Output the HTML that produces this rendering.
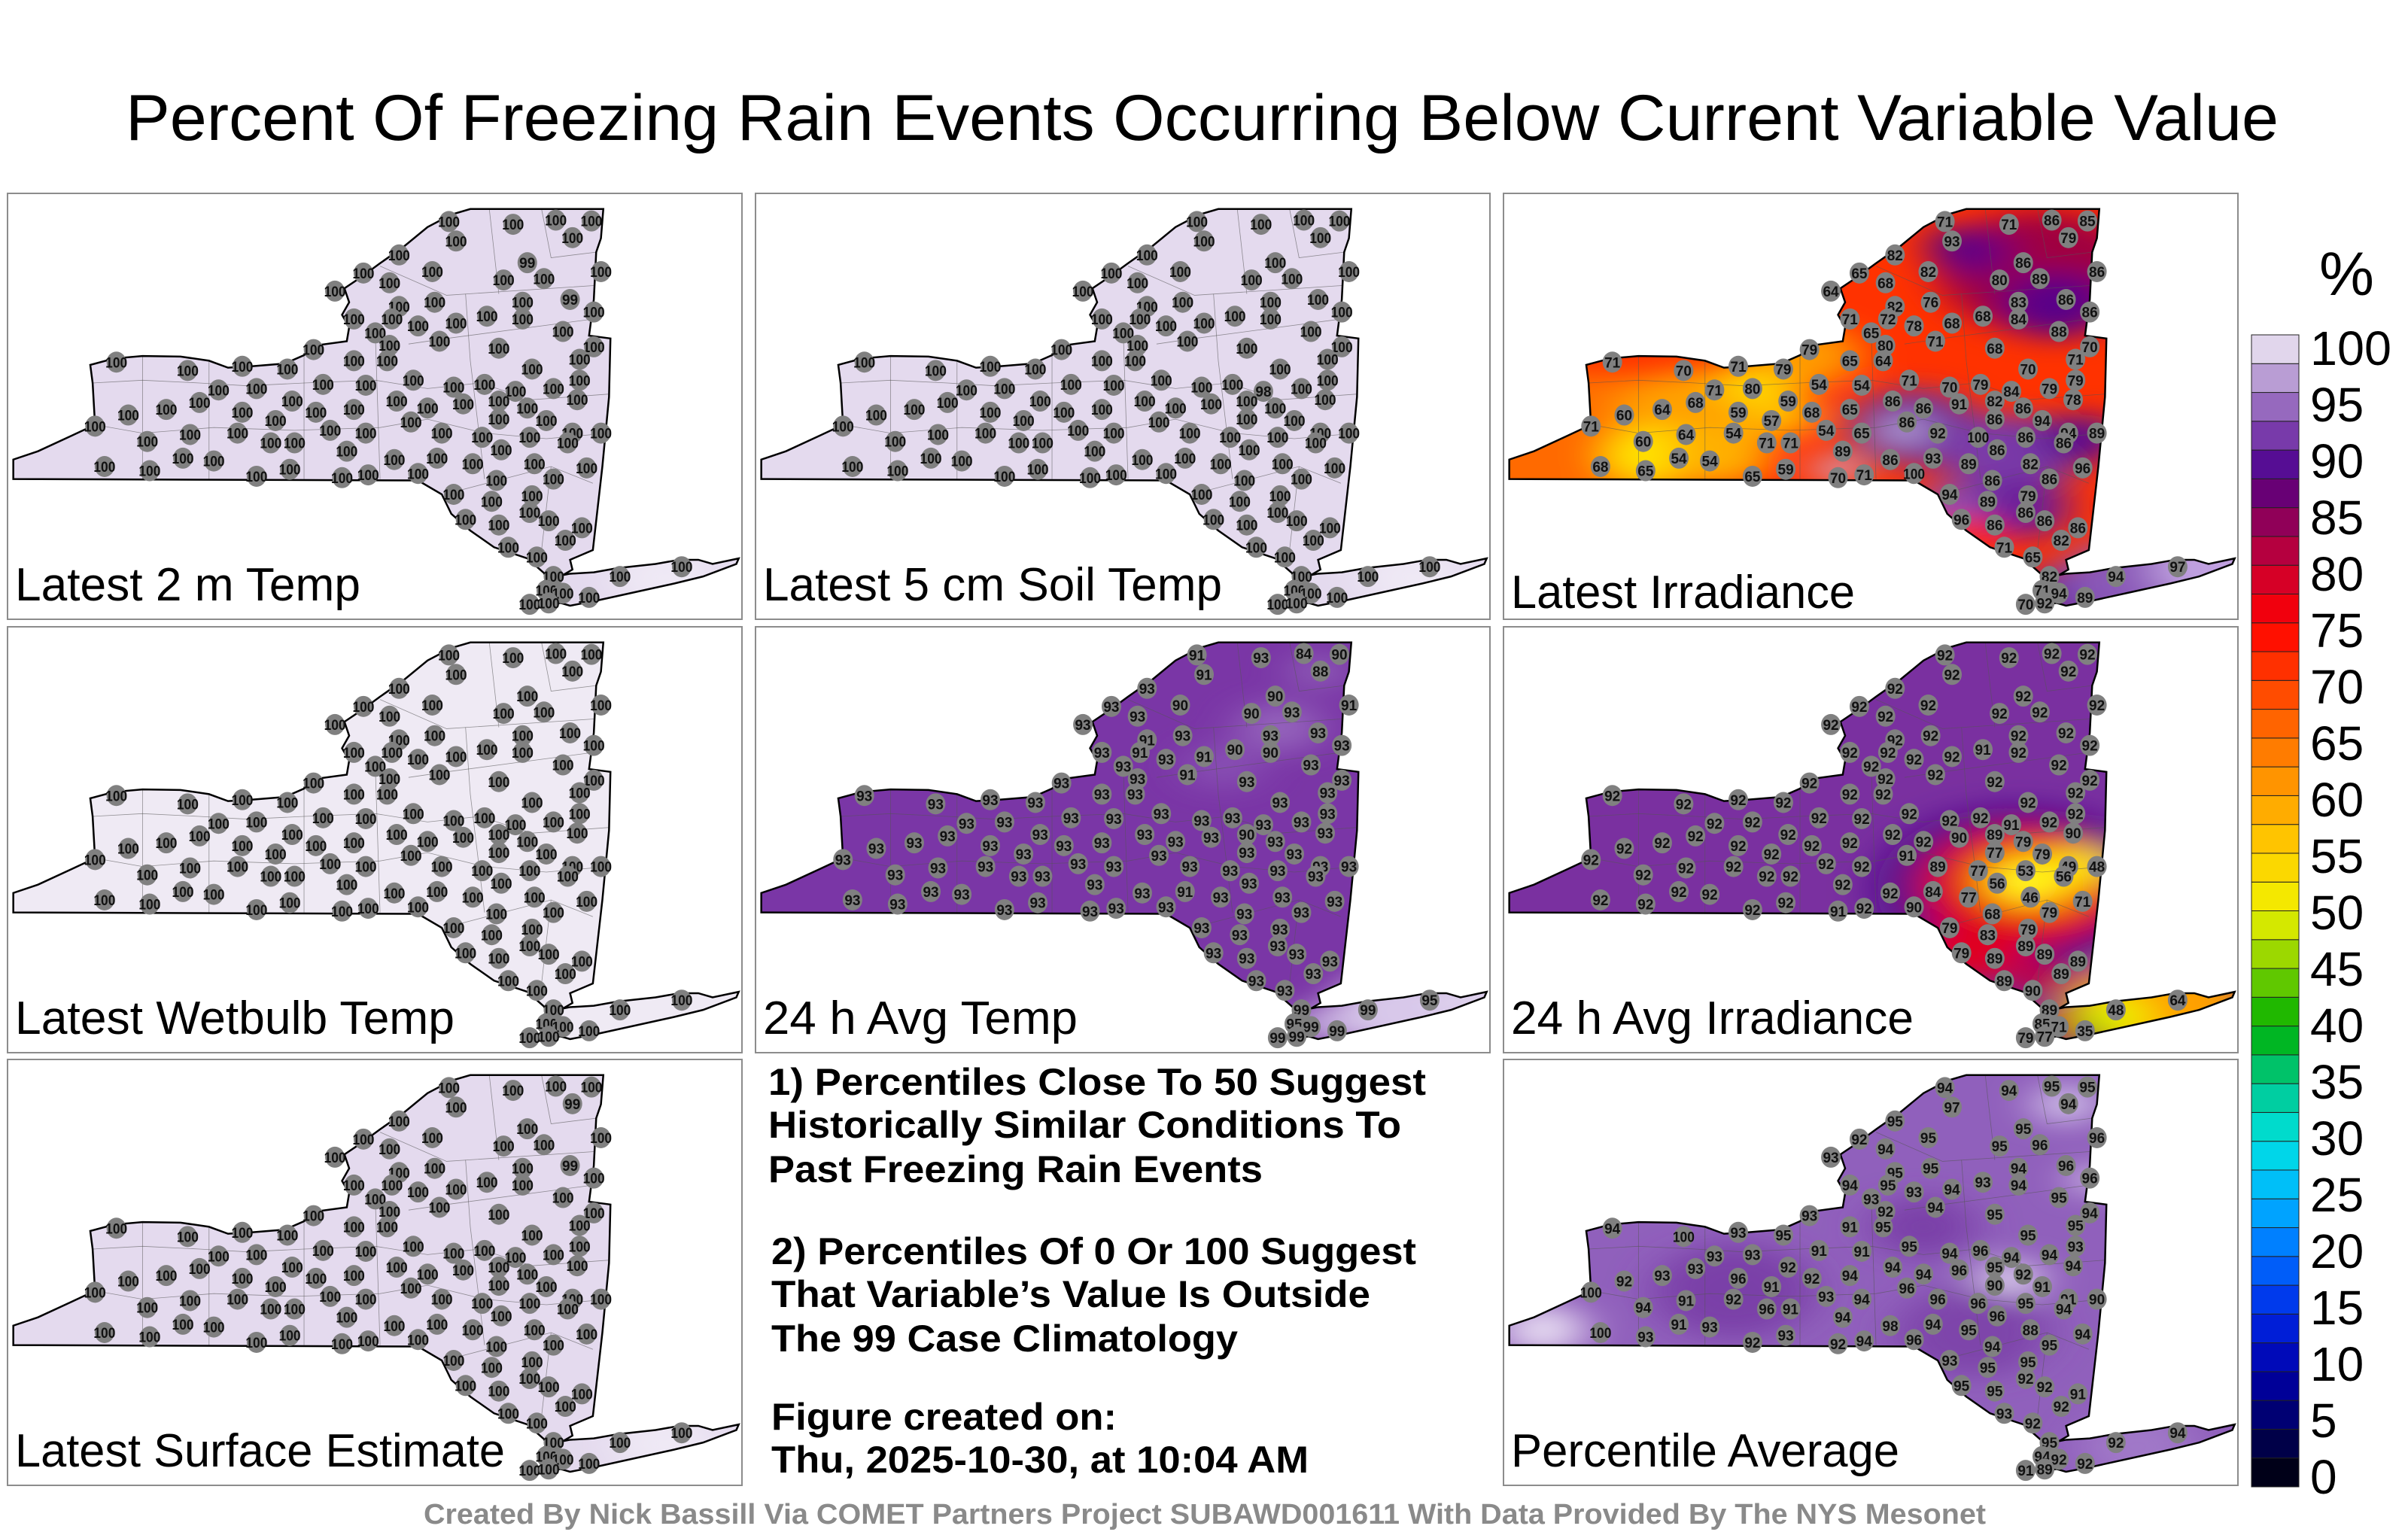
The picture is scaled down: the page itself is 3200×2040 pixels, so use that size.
<!DOCTYPE html>
<html><head><meta charset="utf-8"><title>Percent Of Freezing Rain Events</title>
<style>html,body{margin:0;padding:0;background:#fff;}svg{display:block;}text{font-family:"Liberation Sans",Arial,sans-serif;}</style>
</head><body>
<svg id="fig" width="3200" height="2040" viewBox="0 0 3200 2040" xmlns="http://www.w3.org/2000/svg">
<defs>
<filter id="blur" x="-50%" y="-50%" width="200%" height="200%"><feGaussianBlur stdDeviation="45"/></filter>
</defs>
<rect width="3200" height="2040" fill="#fff"/>
<text x="167" y="186" font-size="86" textLength="2861" lengthAdjust="spacingAndGlyphs">Percent Of Freezing Rain Events Occurring Below Current Variable Value</text>
<g id="panels"></g>
<g id="notes" font-weight="bold" font-size="50">
<text x="1021" y="1455" textLength="874" lengthAdjust="spacingAndGlyphs">1) Percentiles Close To 50 Suggest</text>
<text x="1021" y="1512" textLength="841" lengthAdjust="spacingAndGlyphs">Historically Similar Conditions To</text>
<text x="1021" y="1571" textLength="657" lengthAdjust="spacingAndGlyphs">Past Freezing Rain Events</text>
<text x="1025" y="1680" textLength="857" lengthAdjust="spacingAndGlyphs">2) Percentiles Of 0 Or 100 Suggest</text>
<text x="1025" y="1737" textLength="796" lengthAdjust="spacingAndGlyphs">That Variable’s Value Is Outside</text>
<text x="1025" y="1796" textLength="620" lengthAdjust="spacingAndGlyphs">The 99 Case Climatology</text>
<text x="1025" y="1900" textLength="459" lengthAdjust="spacingAndGlyphs">Figure created on:</text>
<text x="1025" y="1957" textLength="714" lengthAdjust="spacingAndGlyphs">Thu, 2025-10-30, at 10:04 AM</text>
</g>
<g id="cbar"></g>
<text x="3082" y="392" font-size="82">%</text>
<text x="563" y="2025" font-size="38" font-weight="bold" fill="#8a8a8a" textLength="2076" lengthAdjust="spacingAndGlyphs">Created By Nick Bassill Via COMET Partners Project SUBAWD001611 With Data Provided By The NYS Mesonet</text>
</svg>
<script>
// station positions (map reference coordinates)
const stX=[945,1080,1170,1245,960,1205,840,1110,765,910,1060,1145,1265,820,705,1200,915,1100,840,1250,745,825,880,960,1025,1100,790,1185,925,820,1050,1250,660,745,815,1220,245,395,510,605,1120,1220,460,540,680,770,870,955,1020,1085,1165,420,615,835,900,975,1050,1110,1215,270,350,510,580,665,745,865,1050,1150,200,400,500,310,570,620,695,770,930,1015,1115,1205,1265,1195,730,1055,385,450,220,315,540,610,720,775,830,920,995,1125,1235,880,1165,1045,955,1035,1120,1115,980,1050,1155,1225,1190,1070,1130,1165,1150,1185,1115,1155,1240,1305,1435];
const stY=[120,130,115,118,190,178,240,268,305,300,330,325,300,340,370,400,410,410,425,445,470,470,495,485,460,470,520,515,550,565,575,570,580,620,620,615,625,655,640,650,650,690,725,720,705,708,690,715,705,730,720,770,765,765,790,775,765,790,760,815,795,805,835,805,795,840,830,835,855,885,880,910,915,915,870,880,880,895,895,880,880,915,945,940,970,980,1000,1015,1035,1010,1040,1030,975,970,990,990,1005,1025,1045,1050,1100,1125,1105,1165,1190,1210,1195,1220,1265,1290,1325,1395,1445,1455,1495,1490,1470,1395,1360];
// values per panel
const valsTemp2m=[100,100,100,100,100,100,100,99,100,100,100,100,100,100,100,99,100,100,100,100,100,100,100,100,100,100,100,100,100,100,100,100,100,100,100,100,100,100,100,100,100,100,100,100,100,100,100,100,100,100,100,100,100,100,100,100,100,100,100,100,100,100,100,100,100,100,100,100,100,100,100,100,100,100,100,100,100,100,100,100,100,100,100,100,100,100,100,100,100,100,100,100,100,100,100,100,100,100,100,100,100,100,100,100,100,100,100,100,100,100,100,100,100,100,100,100,100,100,100];
const valsSoil=[100,100,100,100,100,100,100,100,100,100,100,100,100,100,100,100,100,100,100,100,100,100,100,100,100,100,100,100,100,100,100,100,100,100,100,100,100,100,100,100,100,100,100,100,100,100,100,100,100,98,100,100,100,100,100,100,100,100,100,100,100,100,100,100,100,100,100,100,100,100,100,100,100,100,100,100,100,100,100,100,100,100,100,100,100,100,100,100,100,100,100,100,100,100,100,100,100,100,100,100,100,100,100,100,100,100,100,100,100,100,100,100,100,100,100,100,100,100,100];
const valsIrr=[71,71,86,85,93,79,82,86,65,82,80,89,86,68,64,86,76,83,82,86,71,72,78,68,68,84,65,88,71,80,68,70,79,65,64,71,71,70,71,79,70,79,71,80,54,54,71,70,79,84,79,68,59,86,86,91,82,86,78,60,64,59,57,68,65,86,86,94,71,64,54,60,71,71,54,65,92,100,86,94,89,86,89,86,54,54,68,65,65,59,70,71,86,93,89,82,96,100,86,86,94,89,79,86,96,86,86,86,82,71,65,82,71,94,70,92,89,94,97];
const valsWetbulb=[100,100,100,100,100,100,100,100,100,100,100,100,100,100,100,100,100,100,100,100,100,100,100,100,100,100,100,100,100,100,100,100,100,100,100,100,100,100,100,100,100,100,100,100,100,100,100,100,100,100,100,100,100,100,100,100,100,100,100,100,100,100,100,100,100,100,100,100,100,100,100,100,100,100,100,100,100,100,100,100,100,100,100,100,100,100,100,100,100,100,100,100,100,100,100,100,100,100,100,100,100,100,100,100,100,100,100,100,100,100,100,100,100,100,100,100,100,100,100];
const valsAvgTemp=[91,93,84,90,91,88,93,90,93,90,90,93,91,93,93,93,93,93,91,93,93,91,93,91,90,90,93,93,91,93,93,93,93,93,93,93,93,93,93,93,93,93,93,93,93,93,93,93,93,93,93,93,93,93,93,93,90,93,93,93,93,93,93,93,93,93,93,93,93,93,93,93,93,93,93,93,93,93,93,93,93,93,93,93,93,93,93,93,93,93,93,93,93,91,93,93,93,93,93,93,93,93,93,93,93,93,93,93,93,93,93,99,95,99,99,99,99,99,95];
const valsAvgIrr=[92,92,92,92,92,92,92,92,92,92,92,92,92,92,92,92,92,92,92,92,92,92,92,92,91,92,92,92,92,92,92,92,92,92,92,92,92,92,92,92,92,92,92,92,92,92,92,92,92,91,92,92,92,92,92,90,89,79,90,92,92,92,92,92,92,91,77,79,92,92,92,92,92,92,92,92,89,77,53,49,48,56,92,56,92,92,92,92,92,92,91,92,92,84,77,46,71,90,79,68,79,83,79,89,79,89,89,89,89,89,90,89,85,71,79,77,35,48,64];
const valsSurface=[100,100,100,100,100,99,100,100,100,100,100,100,100,100,100,99,100,100,100,100,100,100,100,100,100,100,100,100,100,100,100,100,100,100,100,100,100,100,100,100,100,100,100,100,100,100,100,100,100,100,100,100,100,100,100,100,100,100,100,100,100,100,100,100,100,100,100,100,100,100,100,100,100,100,100,100,100,100,100,100,100,100,100,100,100,100,100,100,100,100,100,100,100,100,100,100,100,100,100,100,100,100,100,100,100,100,100,100,100,100,100,100,100,100,100,100,100,100,100];
const valsAverage=[94,94,95,95,97,94,95,95,92,95,95,96,96,94,93,96,95,94,95,96,94,95,93,94,93,94,93,95,94,92,95,94,93,91,95,95,94,100,93,95,95,93,93,93,91,91,95,94,96,94,94,93,92,94,94,96,95,92,94,92,93,96,91,92,94,96,90,91,100,91,92,94,96,91,93,94,96,96,95,91,90,94,94,96,91,93,100,93,92,93,92,94,98,94,95,88,94,96,95,94,93,95,95,92,95,95,92,91,92,93,92,95,94,92,91,89,92,92,94];
// colorbar levels
const cbTicks=[100,95,90,85,80,75,70,65,60,55,50,45,40,35,30,25,20,15,10,5,0];

const SVGNS='http://www.w3.org/2000/svg';
function mk(tag,attrs,parent){const e=document.createElementNS(SVGNS,tag);for(const k in attrs)e.setAttribute(k,attrs[k]);if(parent)parent.appendChild(e);return e;}

const stops=[[0,[0,0,0]],[5,[0,0,96]],[10,[0,0,170]],[15,[0,40,230]],[20,[0,110,255]],[25,[0,180,255]],[30,[0,225,225]],[35,[0,200,140]],[40,[0,176,0]],[45,[128,208,0]],[50,[240,240,0]],[55,[255,208,0]],[60,[255,160,0]],[65,[255,112,0]],[70,[255,64,0]],[75,[255,0,0]],[80,[200,0,50]],[85,[125,0,100]],[88,[75,0,140]],[90,[105,35,160]],[95,[165,128,200]],[100,[245,242,248]]];
function cmap(v){for(let i=1;i<stops.length;i++){if(v<=stops[i][0]){const a=stops[i-1],b=stops[i];const t=(v-a[0])/(b[0]-a[0]);const c=a[1].map((x,j)=>Math.round(x+(b[1][j]-x)*t));return 'rgb('+c.join(',')+')';}}return 'rgb(245,242,248)';}

// colorbar
const cb=document.getElementById('cbar');
const cbTop=445,cbBot=1976,cbX=2992,cbW=63;
function cbY(v){return cbBot-(v/100)*(cbBot-cbTop);}
for(let v=0;v<100;v+=2.5){
  const band=mk('rect',{x:cbX,y:cbY(v+2.5),width:cbW,height:cbY(v)-cbY(v+2.5),fill:cmap(v+1.25),stroke:'#222','stroke-width':1},cb);
  
  
}
function lblY(v){return 1961-(v/100)*1500+24;}
cbTicks.forEach(v=>{
  const t=mk('text',{x:3070,y:lblY(v),'font-size':64},cb);
  if(String(v).length===3){t.setAttribute('textLength',108);t.setAttribute('lengthAdjust','spacingAndGlyphs');}
  t.textContent=String(v);
  
  
});

const statePath='M28,1045 L28,975 L80,945 L150,890 L200,850 L195,700 L190,635 L240,612 L300,603 L380,605 L440,620 L480,645 L530,640 L600,630 L640,600 L665,565 L730,550 L735,500 L720,455 L735,410 L725,360 L760,320 L800,270 L850,210 L900,140 L950,95 L990,75 L1270,75 L1265,180 L1255,230 L1250,400 L1240,530 L1285,540 L1282,750 L1268,1000 L1248,1300 L1200,1335 L1205,1370 L1185,1390 L1200,1385 L1250,1380 L1300,1365 L1380,1350 L1430,1335 L1470,1335 L1500,1350 L1555,1330 L1550,1350 L1480,1395 L1420,1420 L1340,1450 L1260,1480 L1200,1500 L1180,1490 L1150,1500 L1140,1460 L1150,1390 L1110,1330 L1040,1290 L990,1230 L950,1170 L930,1100 L880,1050 Z';
const countyLines=['M195,700 L300,690 L420,700 L520,710 L640,700 L790,690 L900,720 L1010,700 L1120,760 L1280,740','M200,850 L300,880 L450,860 L620,870 L800,860 L900,830 L1020,880 L1150,900 L1282,880','M300,603 L300,1045 M440,620 L440,1045 M640,600 L640,1045 M790,520 L800,1045 M980,380 L990,620 L1020,1045','M800,280 L940,385 L1250,350 M1030,75 L1050,380 M1140,75 L1160,250 L1255,230','M935,1100 L1160,1000 L1248,1060 M1160,1000 L1140,1300 M860,560 L940,540 L1250,470'];

const panels=[
 {x:10,y:257,label:'Latest 2 m Temp',lw:459,ly:541,vals:valsTemp2m,base:'#e4daee',blobs:[[1400,1400,110,'#efe9f5']],name:'panel-latest-2m-temp'},
 {x:1004,y:257,label:'Latest 5 cm Soil Temp',lw:610,ly:541,vals:valsSoil,base:'#e4daee',blobs:[[1400,1400,110,'#efe9f5']],name:'panel-latest-5cm-soil-temp'},
 {x:1998,y:257,label:'Latest Irradiance',lw:457,ly:551,vals:valsIrr,base:'#ff3200',blobs:[[200,920,260,'#ff7000'],[80,980,160,'#ff6a00'],[420,820,170,'#ffa000'],[330,960,100,'#ffe600'],[560,700,90,'#ffd800'],[610,820,70,'#ffc000'],[660,600,110,'#ff9a00'],[470,960,110,'#ffb000'],[1150,300,220,'#a00040'],[1180,420,120,'#5a0088'],[1000,230,90,'#6a0080'],[960,190,50,'#4a0090'],[880,860,140,'#7030a0'],[1080,960,150,'#7a3aa8'],[860,870,50,'#c0a8dc'],[720,1010,50,'#c8b4e0'],[1230,900,90,'#5a1090'],[1100,1150,110,'#6a1a9a'],[950,1150,80,'#8a50b8'],[1000,1235,60,'#ff2000'],[1230,1460,120,'#6020a0'],[1350,1410,160,'#8a58b8'],[1520,1360,140,'#c0a0e0']],name:'panel-latest-irradiance'},
 {x:10,y:833,label:'Latest Wetbulb Temp',lw:584,ly:541,vals:valsWetbulb,base:'#efeaf4',blobs:[],name:'panel-latest-wetbulb-temp'},
 {x:1004,y:833,label:'24 h Avg Temp',lw:418,ly:541,vals:valsAvgTemp,base:'#7a36a6',blobs:[[1120,380,90,'#9464bc'],[1000,520,80,'#8850b4'],[1200,180,60,'#9060b8'],[1380,1400,150,'#d8c8ea'],[1550,1350,100,'#e0d4ee'],[1200,1450,60,'#c8b4e0']],name:'panel-24h-avg-temp'},
 {x:1998,y:833,label:'24 h Avg Irradiance',lw:535,ly:541,vals:valsAvgIrr,base:'#7a30a0',blobs:[[1100,960,300,'#48088c'],[1110,950,220,'#e00010'],[1000,1180,110,'#e00020'],[1150,1280,70,'#c00040'],[1130,930,130,'#ff8000'],[1120,930,75,'#ffff20'],[1230,880,75,'#ffe000'],[1400,1390,190,'#ffa000'],[1290,1420,90,'#f0f000'],[1240,1460,45,'#40c000'],[1175,1450,45,'#ff2000']],name:'panel-24h-avg-irradiance'},
 {x:10,y:1408,label:'Latest Surface Estimate',lw:651,ly:541,vals:valsSurface,base:'#e4daee',blobs:[[1400,1400,110,'#efe9f5']],name:'panel-latest-surface-estimate'},
 {x:1998,y:1408,label:'Percentile Average',lw:516,ly:541,vals:valsAverage,base:'#9060bc',blobs:[[100,990,90,'#e4d8f0'],[1080,810,70,'#ddd0ee'],[1200,180,70,'#d0c0e8'],[1260,450,50,'#d8c8ec'],[500,850,170,'#7a40a8'],[1000,1000,160,'#7e44aa'],[900,620,110,'#7a40a8'],[1350,1410,120,'#a078c8']],name:'panel-percentile-average'}
];

const root=document.getElementById('panels');
panels.forEach((p,pi)=>{
  const g=mk('g',{transform:'translate('+p.x+','+p.y+')'},root);
  
  
  const fr=mk('rect',{x:0,y:0,width:976,height:566,fill:'#fff',stroke:'#8c8c8c','stroke-width':2},g);
  
  
  const cid='clip'+pi;
  const cp=mk('clipPath',{id:cid},g);
  mk('path',{d:statePath,transform:'translate(-10,-7) scale(0.6313,0.370)'},cp);
  const fillG=mk('g',{'clip-path':'url(#'+cid+')'},g);
  
  
  const inner=mk('g',{transform:'translate(-10,-7) scale(0.6313,0.370)'},fillG);
  mk('rect',{x:0,y:0,width:1600,height:1600,fill:p.base},inner);
  const bg=mk('g',{filter:'url(#blur)'},inner);
  p.blobs.forEach(b=>{mk('circle',{cx:b[0],cy:b[1],r:b[2],fill:b[3]},bg);});
  const lines=mk('g',{transform:'translate(-10,-7) scale(0.6313,0.370)'},g);
  countyLines.forEach(d=>{
    const cl=mk('path',{d:d,fill:'none',stroke:'#555','stroke-width':0.8,'vector-effect':'non-scaling-stroke',opacity:0.6},lines);
    
    
  });
  const outline=mk('path',{d:statePath,fill:'none',stroke:'#000','stroke-width':2.5,'vector-effect':'non-scaling-stroke'},lines);
  
  
  const st=mk('g',{},g);
  
  
  for(let i=0;i<stX.length;i++){
    const px=stX[i]*0.6313-10, py=stY[i]*0.370-7;
    const dot=mk('ellipse',{cx:px,cy:py,rx:13,ry:14,fill:'#808080'},st);
    
    
    const v=p.vals[i];
    const t=mk('text',{x:px,y:py+7,'font-size':19,'font-weight':'bold','text-anchor':'middle',fill:'#111'},st);
    if(String(v).length===3){t.setAttribute('textLength',29);t.setAttribute('lengthAdjust','spacingAndGlyphs');}
    t.textContent=String(v);
    
    
  }
  const lab=mk('text',{x:10,y:p.ly,'font-size':62,textLength:p.lw,lengthAdjust:'spacingAndGlyphs'},g);
  lab.textContent=p.label;
  
  
});
</script>
</body></html>
